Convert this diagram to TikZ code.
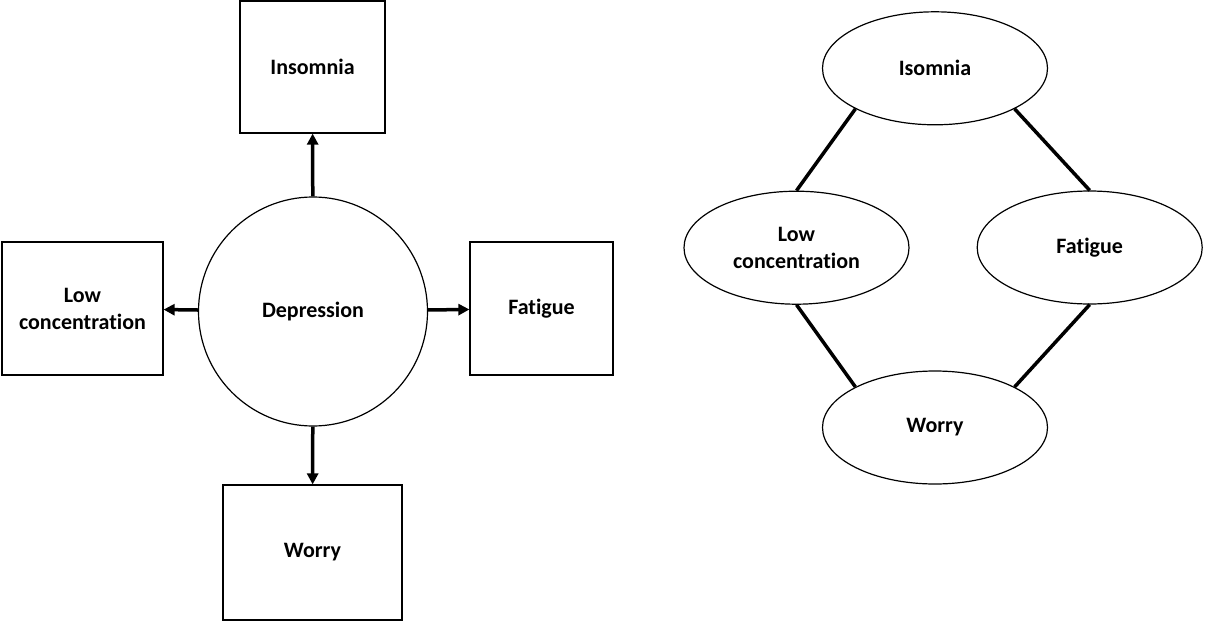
\documentclass[tikz,border=0pt]{standalone}
\usepackage{fontspec}
\setmainfont[Ligatures=NoCommon]{Carlito}
\usetikzlibrary{shapes.geometric,arrows.meta}
\begin{document}
\begin{tikzpicture}[x=1pt,y=-1pt,
  lbl/.style={font=\fontsize{22}{27}\selectfont\bfseries, align=center},
  sqbox/.style={lbl, draw, line width=1.2pt, inner sep=0pt},
  ring/.style={lbl, draw, circle, line width=1.2pt, inner sep=0pt, minimum size=229pt},
  oval/.style={lbl, draw, ellipse, line width=1.2pt, inner sep=0pt, minimum width=225pt, minimum height=113pt},
  arr/.style={line width=3.5pt, -{Triangle[length=11pt,width=11pt]}},
  link/.style={line width=3.5pt}]
\useasboundingbox (0,0) rectangle (1212,621);
% left diagram
\node[ring] (dep) at (313,311.5) {Depression};
\node[sqbox, minimum width=145pt, minimum height=132pt] (ins) at (312.5,67) {Insomnia};
\node[sqbox, minimum width=161pt, minimum height=133pt] (low) at (82.5,308.5) {Low\\concentration};
\node[sqbox, minimum width=143pt, minimum height=133pt] (fat) at (541.5,308.5) {Fatigue};
\node[sqbox, minimum width=179pt, minimum height=135pt] (wor) at (312.5,552.5) {Worry};
\draw[arr] (dep) -- (ins);
\draw[arr] (dep) -- (low);
\draw[arr] (dep) -- (fat);
\draw[arr] (dep) -- (wor);
% right diagram
\node[oval] (iso) at (935,68.3) {Isomnia};
\node[oval] (lc) at (796.5,247.7) {Low\\concentration};
\node[oval] (fg) at (1089.7,247.5) {Fatigue};
\node[oval] (wr) at (935,427.5) {Worry};
\draw[link] (iso.207) -- (lc.north);
\draw[link] (iso.333) -- (fg.north);
\draw[link] (lc.south) -- (wr.153);
\draw[link] (fg.south) -- (wr.27);
\end{tikzpicture}
\end{document}
